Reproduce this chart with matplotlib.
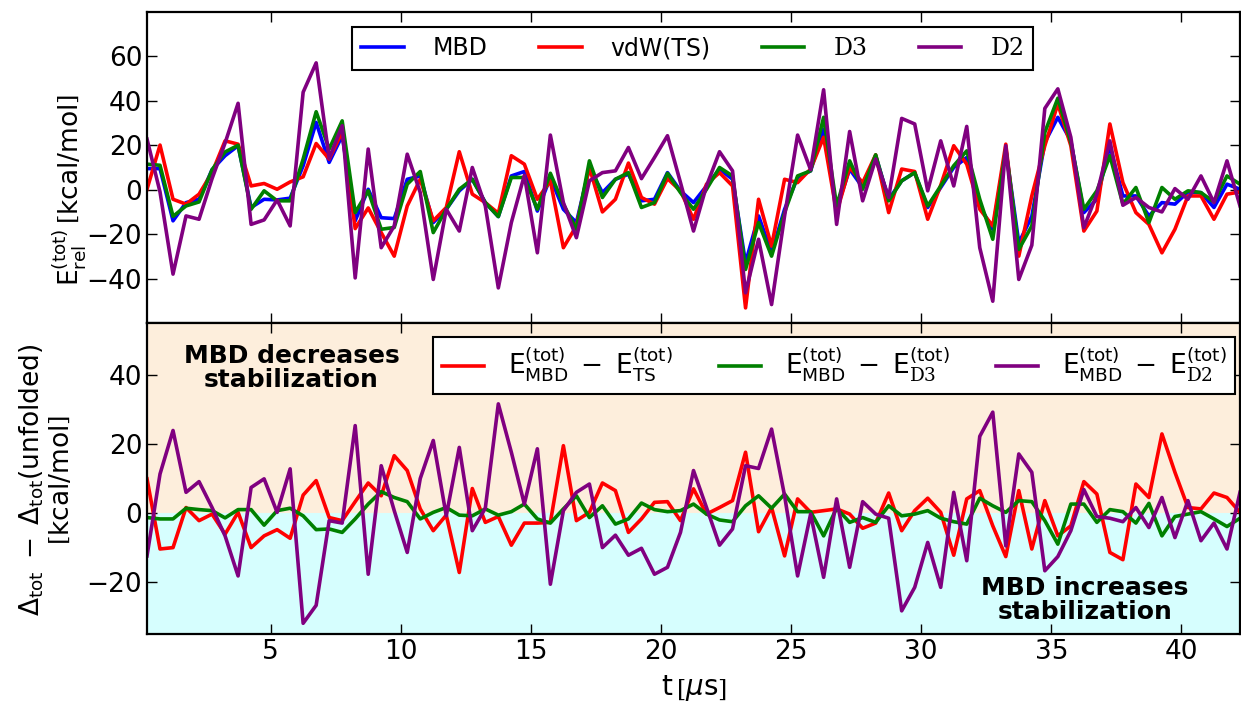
import numpy as np
import matplotlib
matplotlib.use("Agg")
import matplotlib.pyplot as plt

plt.rcParams.update({
    'font.family': 'DejaVu Sans',
    'mathtext.fontset': 'custom',
    'mathtext.rm': 'DejaVu Serif',
    'mathtext.sf': 'DejaVu Sans',
    'mathtext.it': 'DejaVu Sans:italic',
    'mathtext.bf': 'DejaVu Sans:bold',
    'xtick.direction': 'in', 'ytick.direction': 'in',
    'xtick.top': True, 'ytick.right': True,
    'xtick.major.size': 7, 'ytick.major.size': 7,
    'xtick.major.width': 1.0, 'ytick.major.width': 1.0,
    'axes.linewidth': 1.6,
})

# time grid (microseconds)
t = np.arange(0.25, 42.3, 0.5)

E_MBD = [9.5, 9.5, -14, -5.8, -4.3, 9, 15.3, 19.8, -8, -4.3, -4.6, -3.8, 10.8, 30.3, 12.3, 24.3, -14, 0.2,
         -12.6, -13, 4.7, 6.2, -14.8, -8.8, -0.5, 4.7, -5.8, -12.1, 6.2, 8.2, -9.6, 5.5, -8.8, -14.8, 10,
         -1.3, 4.7, 7, -5, -4.3, 7.7, -0.5, -5.8, 1.7, 9.3, 4.7, -32.9, -11.8, -28.4, -8.8, 5.5, 8.5,
         27.3, -8.8, 9.3, 1, 15.3, -4.3, 4, 7.7, -8, 1, 10, 14.5, -7.3, -17.8, 18.3, -23.9, -12,
         21.3, 32.6, 22, -10.3, -4.3, 19.8, -2.8, -2.8, -11.8, -5.8, -6.5, -1, -1.3, -8, 2.5, 0.2]
E_TS = [0.2, 20.1, -4.3, -6.5, -2, 7.7, 22, 20.5, 1.7, 2.8, 0.2, 3.5, 5.8, 20.8, 13.8, 26.1, -17.5, -8.2,
        -19.3, -29.9, -7.3, 4.7, -14, -8, 17.1, -2, -5.8, -10.6, 15.3, 11.5, -4.3, 4, -26.1, -16.3, 10,
        -10, -4.3, 12, -3.5, -6.5, 5, -0.5, -13.3, 2.5, 7.7, 1.7, -53.2, -4.3, -25.4, 4.7, 3.2, 9.3,
        23.6, -10.3, 10, 3.2, 15.7, -10.3, 9.3, 8.2, -13.3, 2, 19.8, 11.5, -8.8, -16.3, 20.5, -29.9, -2.8,
        19.8, 38.6, 19.8, -18.6, -9.6, 29.6, 3.2, -10.3, -15.6, -28.4, -17.8, -2.8, -2.8, -13.3, -2, -1]
E_D3 = [11.5, 11, -12, -7.3, -5.5, 9, 17, 20, -8.8, -0.5, -5, -5, 13.8, 35.1, 18.3, 31, -10.3, -0.5,
        -17.8, -17, 2.5, 8.2, -19.3, -8.8, 0.2, 4.7, -5.8, -12.1, 5.5, 5.5, -8.8, 7.4, -6.5, -17.8, 13,
        -3.5, 4.7, 7.7, -8, -5.8, 7.4, -1.3, -8.8, 0.2, 10, 6.2, -35.9, -14.8, -29.9, -10.3, 6.2, 8.5,
        32.6, -7.3, 13, 0.2, 15.7, -5, 4, 7.7, -7.3, 1.7, 10.8, 17.5, -4.3, -22.3, 18.3, -26.9, -16.3,
        25.8, 41.2, 21.3, -8.8, -0.5, 15.3, -6.5, 1, -14.8, 1, -4.3, -0.5, -1.3, -5.5, 6.2, 2.5]
E_D2 = [22.8, -1, -38, -11.8, -13.3, 5, 21, 38.9, -15.6, -13.6, -4.6, -16.3, 43.9, 57.1, 14.2, 28.8, -39.7, 18.3,
        -26.1, -16.3, 16, -1.3, -40.4, -8.8, -18.6, 10, -7.3, -44.2, -14.8, 6.5, -28.4, 24.6, -5.8, -21.6, 4,
        7.7, 8.5, 19, 5, 14.5, 24.3, 3.2, -18.6, 1.7, 17.1, 8.5, -46.4, -22.3, -51.7, -11.8, 24.6, 9,
        45, -15.6, 26.2, -5, 13.8, -3.5, 32.1, 29.6, -0.5, 22, 1.7, 28.5, -26.1, -50.2, 19.8, -40.4, -25,
        36.6, 45.4, 23.6, -17.1, -2, 22, -7, -3.5, -8, -10, 0.5, -4.3, 6.2, -5.8, 13, -7.3]

D_TS = [9.9, -10.4, -10, 1.6, -2.2, -0.3, -6.1, 0.2, -10, -6.6, -4.8, -7.3, 5.2, 9.4, -1.3, -2.2, 3.3, 8.7,
        5, 16.6, 12.3, 1.2, -5.1, -0.6, -17.2, 7.1, -2.7, -1, -9.3, -2.9, -2.9, -2.7, 19.5, -2.2, 0.2,
        8.7, 6.5, -5.6, -1.7, 3.1, 3.3, -2.2, 7, -0.3, 1.6, 3.6, 17.6, -5.4, 1.6, -12.4, 4.1, 0.2,
        0.7, 1.2, -0.3, -4.4, -2.9, 5.8, -5.1, 0.7, 4.3, 0.2, -12.2, 4.1, 6.5, -3.7, -12.6, 6.5, -10.4,
        3.6, -6.6, -3.7, 9.1, 5.5, -11.4, -13.5, 8.4, 4.5, 22.9, 11.8, 1.6, 1.2, 5.8, 4.5, 0.2]
D_D3 = [-1.3, -1.7, -1.7, 1.4, 1, 0.7, -1.4, 1, 1, -3.5, 0.7, 1.4, -0.8, -4.8, -4.6, -5.6, -1.7, 2.6,
        6.2, 4.5, 3.3, -1.7, 0.2, 1.6, -0.6, -0.8, 1.2, -0.6, 0.4, 2.6, -1.7, -2.9, 1.2, 5, -1.3,
        2.1, -3.2, -1.7, 2.9, 1, 0.4, 0.7, 2.6, -0.3, -2, -2.5, 2.1, 5, 1.4, 5.5, 0.4, 0.4,
        -6.6, 1.4, -2.7, -1.3, -2.7, 2.1, -0.8, -0.3, 0.7, -1.5, -2.5, -3.2, 4.3, 2.1, 0.2, 3.6, 3.3,
        -2.2, -9, 2.6, 2.6, -2.7, 1, 0.4, -2.9, 2.8, -6.6, -1, -0.3, 0.4, -1.7, -3.9, -1.5]
D_D2 = [-12.4, 11.3, 23.9, 6, 9.1, 1.6, -6.6, -18.2, 7.4, 9.9, 0.2, 12.8, -31.9, -26.7, -2.2, -2.9, 25.3, -17.7,
        13.7, 0.7, -11.4, 10, 21, -0.8, 19, -5.1, 1.4, 31.6, 17.6, 2.6, 18.6, -20.6, 0.7, 6, 8.4,
        -10, -6.4, -12.2, -10.2, -17.7, -15.7, -5.6, 12.3, 1.6, -9.3, -4.6, 13.7, 12.9, 24.3, 5, -18.2, -0.3,
        -18.6, 4.1, -15.7, 3.3, -0.3, -1.5, -28.3, -21.5, -8.5, -21.5, 6, -13.8, 22.2, 29.2, -9.5, 17.1, 11.8,
        -16.7, -12.6, -5.1, 6.8, -1, -1.5, -2.5, 1.6, -4.2, 4.5, -7.1, 3.6, -8, -2.9, -10.4, 6]

top_labels = ['MBD', 'vdW(TS)', r'$\mathrm{D3}$', r'$\mathrm{D2}$']
bot_labels = [r'$\mathsf{E}^{\mathsf{(tot)}}_{\mathsf{MBD}}\;-\;\mathsf{E}^{\mathsf{(tot)}}_{\mathsf{TS}}$',
              r'$\mathsf{E}^{\mathsf{(tot)}}_{\mathsf{MBD}}\;-\;\mathsf{E}^{\mathsf{(tot)}}_{\mathrm{D3}}$',
              r'$\mathsf{E}^{\mathsf{(tot)}}_{\mathsf{MBD}}\;-\;\mathsf{E}^{\mathsf{(tot)}}_{\mathrm{D2}}$']
xticks = [5, 10, 15, 20, 25, 30, 35, 40]
yticks_top = [-40, -20, 0, 20, 40, 60]
yticks_bot = [-20, 0, 20, 40]

W, H = 1241, 707
fig = plt.figure(figsize=(W / 100, H / 100), dpi=100)
ax1 = fig.add_axes([147 / W, 1 - 323 / H, 1093 / W, 311 / H])
ax2 = fig.add_axes([147 / W, 1 - 634 / H, 1093 / W, 311 / H], sharex=ax1)

lw = 2.6
ax1.plot(t, E_MBD, color='blue', lw=lw, label=top_labels[0])
ax1.plot(t, E_TS, color='red', lw=lw, label=top_labels[1])
ax1.plot(t, E_D3, color='green', lw=lw, label=top_labels[2])
ax1.plot(t, E_D2, color='purple', lw=lw, label=top_labels[3])
ax1.set_ylim(-60, 80)
ax1.set_yticks(yticks_top)
ax1.set_xlim(t[0], t[-1])
ax1.tick_params(labelbottom=False, labelsize=19)
leg1 = ax1.legend(loc='upper center', bbox_to_anchor=(0.499, 0.952), ncol=4, fontsize=17,
                  fancybox=False, edgecolor='black', framealpha=1, borderaxespad=0,
                  handlelength=1.8, columnspacing=2.2, handletextpad=1.2)
leg1.get_frame().set_linewidth(1.5)

ax2.axhspan(0, 55, color='#FDEEDC', lw=0, zorder=0)
ax2.axhspan(-35, 0, color='#D6FEFE', lw=0, zorder=0)
ax2.plot(t, D_TS, color='red', lw=lw, label=bot_labels[0])
ax2.plot(t, D_D3, color='green', lw=lw, label=bot_labels[1])
ax2.plot(t, D_D2, color='purple', lw=lw, label=bot_labels[2])
ax2.set_ylim(-35, 55)
ax2.set_yticks(yticks_bot)
ax2.set_xticks(xticks)
ax2.tick_params(labelsize=19)
leg2 = ax2.legend(loc='upper center', bbox_to_anchor=(0.6286, 0.955), ncol=3, fontsize=19,
                  fancybox=False, edgecolor='black', framealpha=1, borderaxespad=0,
                  handlelength=1.6, columnspacing=1.75, handletextpad=0.9,
                  borderpad=0.35)
leg2.get_frame().set_linewidth(1.5)

ax2.text(5.8, 42, 'MBD decreases\nstabilization', ha='center', va='center',
         fontsize=18, fontweight='bold', linespacing=1.0)
ax2.text(36.3, -25.2, 'MBD increases\nstabilization', ha='center', va='center',
         fontsize=18, fontweight='bold', linespacing=1.0)

fig.text(70 / W, 1 - 190 / H,
         r'$\mathsf{E}^{\mathsf{(tot)}}_{\mathsf{rel}}\,\left[\mathsf{kcal/mol}\right]$',
         rotation=90, ha='center', va='center', fontsize=19)
fig.text(46 / W, 1 - 480 / H,
         r'$\mathsf{\Delta_{tot}}\;-\;\mathsf{\Delta_{tot}(unfolded)}$' + '\n' +
         r'$\left[\mathsf{kcal/mol}\right]$',
         rotation=90, ha='center', va='center', fontsize=19, multialignment='center',
         linespacing=1.15)
fig.text(694 / W, 1 - 688 / H, r'$\mathsf{t}\,\left[\mu\mathsf{s}\right]$',
         ha='center', va='center', fontsize=20)

fig.savefig('out.png', dpi=100)
